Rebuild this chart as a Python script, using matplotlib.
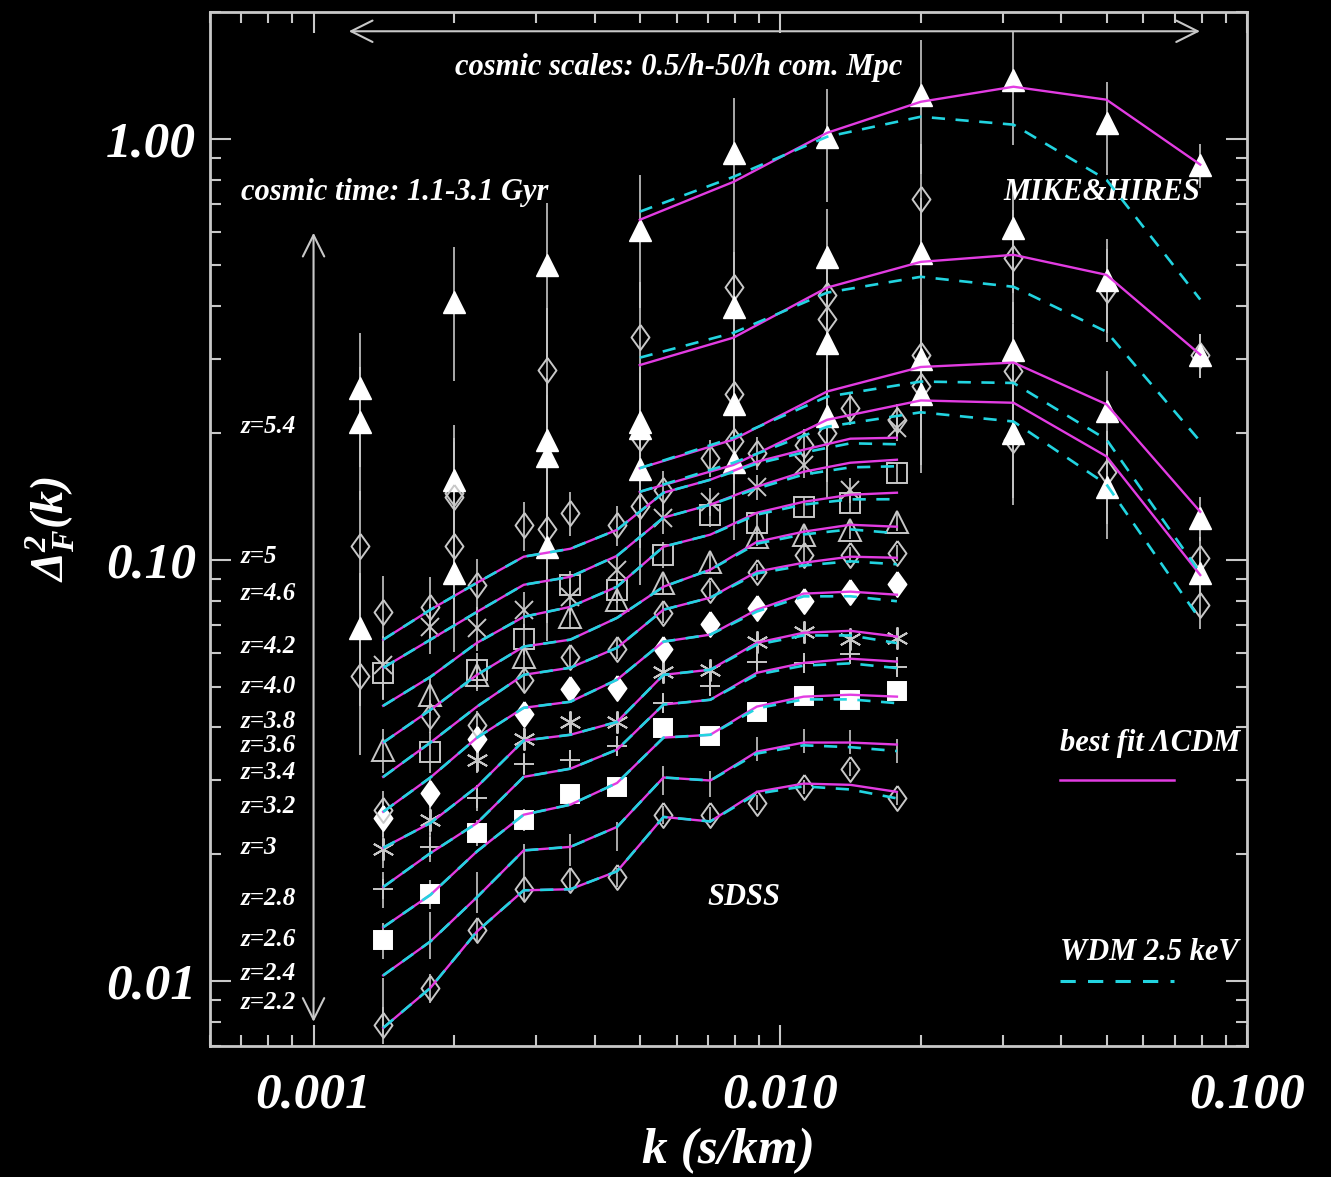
import numpy as np
import matplotlib.pyplot as plt
from matplotlib.ticker import FixedLocator, LogLocator, NullFormatter

plt.rcParams['font.family'] = ['Liberation Serif', 'DejaVu Serif']
plt.rcParams['mathtext.fontset'] = 'custom'
plt.rcParams['mathtext.rm'] = 'Liberation Serif:bold:italic'
plt.rcParams['mathtext.it'] = 'Liberation Serif:bold:italic'
plt.rcParams['mathtext.bf'] = 'Liberation Serif:bold:italic'

nan = np.nan

# SDSS flux power, 11 redshift bins
k_sdss = [0.00141, 0.00178, 0.00224, 0.00282, 0.00355, 0.00447, 0.00562, 0.00708, 0.00891, 0.01122, 0.01413, 0.01778]
z_sdss = [2.2, 2.4, 2.6, 2.8, 3.0, 3.2, 3.4, 3.6, 3.8, 4.0, 4.2]

lcdm_22 = [0.00773, 0.00962, 0.0131, 0.0164, 0.0165, 0.0182, 0.0245, 0.0239, 0.0281, 0.0294, 0.0292, 0.0281]
obs_22 = [0.00786, 0.00962, 0.0132, 0.0165, 0.0174, 0.0176, 0.0248, 0.0248, 0.0265, 0.0289, 0.0319, 0.0272]
lcdm_24 = [0.0103, 0.0124, 0.0158, 0.0204, 0.0208, 0.0232, 0.0304, 0.0299, 0.0350, 0.0368, 0.0368, 0.0364]
obs_24 = [0.00877, 0.0129, 0.0163, 0.0193, 0.0205, 0.0221, 0.0300, 0.0294, 0.0356, 0.0372, 0.0370, 0.0352]
lcdm_26 = [0.0134, 0.0160, 0.0203, 0.0248, 0.0262, 0.0295, 0.0378, 0.0384, 0.0448, 0.0473, 0.0478, 0.0473]
obs_26 = [0.0125, 0.0161, 0.0225, 0.0241, 0.0277, 0.0289, 0.0399, 0.0382, 0.0436, 0.0475, 0.0465, 0.0489]
lcdm_28 = [0.0167, 0.0201, 0.0237, 0.0305, 0.0319, 0.0354, 0.0453, 0.0465, 0.0539, 0.0569, 0.0582, 0.0573]
obs_28 = [0.0165, 0.0208, 0.0272, 0.0328, 0.0335, 0.0362, 0.0458, 0.0502, 0.0573, 0.0569, 0.0598, 0.0557]
lcdm_30 = [0.0207, 0.0237, 0.0289, 0.0372, 0.0384, 0.0412, 0.0533, 0.0548, 0.0635, 0.0671, 0.0678, 0.0657]
obs_30 = [0.0206, 0.0241, 0.0335, 0.0376, 0.0412, 0.0412, 0.0542, 0.0548, 0.0639, 0.0675, 0.0649, 0.0653]
lcdm_32 = [0.0252, 0.0304, 0.0378, 0.0445, 0.0460, 0.0519, 0.0639, 0.0664, 0.0761, 0.0831, 0.0840, 0.0826]
obs_32 = [0.0244, 0.0280, 0.0376, 0.0431, 0.0494, 0.0497, 0.0615, 0.0705, 0.0769, 0.0799, 0.0840, 0.0877]
lcdm_34 = [0.0305, 0.0368, 0.0448, 0.0533, 0.0554, 0.0618, 0.0761, 0.0813, 0.0937, 0.0984, 0.1017, 0.1011]
obs_34 = [0.0255, 0.0426, 0.0406, 0.0519, 0.0588, 0.0615, 0.0748, 0.0849, 0.0937, 0.1028, 0.1028, 0.1039]
lcdm_36 = [0.0368, 0.0440, 0.0533, 0.0622, 0.0646, 0.0728, 0.0863, 0.0947, 0.1103, 0.1166, 0.1211, 0.1198]
obs_36 = [0.0354, 0.0478, 0.0533, 0.0588, 0.0732, 0.0804, 0.0882, 0.0989, 0.1134, 0.1147, 0.1178, 0.1231]
lcdm_38 = [0.0450, 0.0527, 0.0635, 0.0732, 0.0773, 0.0863, 0.1074, 0.1147, 0.1293, 0.1373, 0.1427, 0.1443]
obs_38 = [0.0539, 0.0350, 0.0548, 0.0649, 0.0872, 0.0849, 0.1028, 0.1279, 0.1224, 0.1336, 0.1366, 0.1609]
lcdm_40 = [0.0554, 0.0646, 0.0752, 0.0872, 0.0911, 0.1022, 0.1259, 0.1351, 0.1491, 0.1618, 0.1700, 0.1728]
obs_40 = [0.0563, 0.0693, 0.0690, 0.0761, 0.0817, 0.0947, 0.1259, 0.1373, 0.1491, 0.1681, 0.1466, 0.2059]
lcdm_42 = [0.0646, 0.0761, 0.0882, 0.1017, 0.1062, 0.1178, 0.1443, 0.1549, 0.1709, 0.1825, 0.1939, 0.1949]
obs_42 = [0.0752, 0.0773, 0.0872, 0.1211, 0.1293, 0.1211, 0.1466, 0.1747, 0.1796, 0.1876, 0.2296, 0.2150]

# WDM / LCDM ratio
wdm_ratio_sdss = [1.0, 1.0, 1.0, 1.0, 1.0, 1.0, 1.0, 1.0, 0.99, 0.985, 0.975, 0.965]
sdss_err = [0.10, 0.08, 0.07, 0.06, 0.055, 0.05, 0.05, 0.045, 0.04, 0.04, 0.04, 0.04]
sdss_err_scale = [1.0, 1.6, 1.0, 1.0, 1.0, 1.0, 1.1, 1.2, 1.4, 1.7, 2.2]

# MIKE & HIRES, 4 redshift bins
k_mh = [0.00126, 0.0020, 0.00316, 0.0050, 0.00794, 0.0126, 0.0200, 0.0316, 0.0500, 0.0794]
k_mh_model = [0.0050, 0.00794, 0.0126, 0.0200, 0.0316, 0.0500, 0.0794]

lcdm_mh_54 = [0.642, 0.790, 1.033, 1.224, 1.329, 1.238, 0.868]
wdm_mh_54 = [0.671, 0.812, 1.011, 1.128, 1.080, 0.799, 0.415]
lcdm_mh_50 = [0.290, 0.337, 0.443, 0.510, 0.530, 0.475, 0.307]
wdm_mh_50 = [0.302, 0.346, 0.431, 0.470, 0.445, 0.348, 0.191]
lcdm_mh_46 = [0.165, 0.193, 0.251, 0.287, 0.294, 0.234, 0.130]
wdm_mh_46 = [0.165, 0.195, 0.244, 0.265, 0.263, 0.193, 0.093]
lcdm_mh_42 = [0.145, 0.168, 0.215, 0.239, 0.236, 0.176, 0.092]
wdm_mh_42 = [0.145, 0.170, 0.207, 0.224, 0.213, 0.151, 0.072]

tri_mh_54 = [0.256, 0.410, 0.502, 0.608, 0.926, 1.011, 1.272, 1.381, 1.091, 0.868]
tri_mh_50 = [0.213, 0.155, 0.193, 0.212, 0.399, 0.524, 0.536, 0.615, 0.462, 0.307]
tri_mh_46 = [0.069, 0.093, 0.176, 0.206, 0.234, 0.328, 0.299, 0.315, 0.225, 0.126]
tri_mh_42 = [nan, nan, 0.107, 0.164, 0.171, 0.219, 0.247, 0.200, 0.149, 0.093]
dia_mh_54 = [nan, nan, 0.283, nan, nan, nan, 0.720, nan, nan, nan]
dia_mh_50 = [0.108, 0.144, nan, 0.339, 0.445, 0.426, nan, 0.522, 0.438, 0.307]
dia_mh_46 = [nan, 0.141, 0.118, 0.195, 0.247, 0.374, 0.307, 0.280, nan, 0.101]
dia_mh_42 = [0.053, 0.108, nan, 0.134, 0.191, 0.200, 0.258, 0.193, 0.162, 0.078]
mh_err = [0.35, 0.35, 0.40, 0.35, 0.35, 0.30, 0.35, 0.30, 0.25, 0.12]

z_labels = ['z=5.4', 'z=5', 'z=4.6', 'z=4.2', 'z=4.0', 'z=3.8', 'z=3.6', 'z=3.4',
            'z=3.2', 'z=3', 'z=2.8', 'z=2.6', 'z=2.4', 'z=2.2']
z_label_y = [0.207, 0.102, 0.0831, 0.0622, 0.0499, 0.0412, 0.0362, 0.0312,
             0.0260, 0.0207, 0.0157, 0.0125, 0.0104, 0.00887]

MAG = '#e23ce2'
CYA = '#22d4e0'
GRY = '#c8c8c8'
WHT = 'white'
diamond = [(0, 1), (0.72, 0), (0, -1), (-0.72, 0), (0, 1)]
aster = (6, 2, 0)

sdss_lcdm = [lcdm_22, lcdm_24, lcdm_26, lcdm_28, lcdm_30, lcdm_32, lcdm_34, lcdm_36, lcdm_38, lcdm_40, lcdm_42]
sdss_obs = [obs_22, obs_24, obs_26, obs_28, obs_30, obs_32, obs_34, obs_36, obs_38, obs_40, obs_42]
# marker, size, face, edge
sdss_sym = [(diamond, 18, 'none', GRY), (None, 0, 'none', GRY), ('s', 13, WHT, WHT),
            ('+', 15, 'none', GRY), (aster, 16, 'none', GRY), (diamond, 18, WHT, WHT),
            (diamond, 18, 'none', GRY), ('^', 16, 'none', GRY), ('s', 14, 'none', GRY),
            ('x', 13, 'none', GRY), (diamond, 18, 'none', GRY)]

fig = plt.figure(figsize=(13.31, 11.77), dpi=100, facecolor='black')
ax = fig.add_axes([210 / 1331, 1 - 1046 / 1177, 1037 / 1331, 1034 / 1177])
ax.set_facecolor('black')
ax.set_xscale('log')
ax.set_yscale('log')

ks = np.array(k_sdss)
for i, z in enumerate(z_sdss):
    mod = np.array(sdss_lcdm[i])
    obs = np.array(sdss_obs[i])
    err = obs * np.array(sdss_err) * sdss_err_scale[i]
    ax.errorbar(ks, obs, yerr=err, fmt='none', ecolor=GRY, elinewidth=1.2, zorder=2)
    m, ms, fc, ec = sdss_sym[i]
    if m is not None:
        ax.plot(ks, obs, ls='none', marker=m, ms=ms, mfc=fc, mec=ec, mew=1.4, zorder=3)
    ax.plot(ks, mod, color=MAG, lw=1.7, zorder=4)
    ax.plot(ks, mod * np.array(wdm_ratio_sdss), color=CYA, lw=1.9, ls=(0, (5, 4)), zorder=5)

km = np.array(k_mh)
for tri, dia in [(tri_mh_54, dia_mh_54), (tri_mh_50, dia_mh_50), (tri_mh_46, dia_mh_46), (tri_mh_42, dia_mh_42)]:
    for vals in (tri, dia):
        v = np.array(vals)
        ax.errorbar(km, v, yerr=v * np.array(mh_err), fmt='none', ecolor=GRY, elinewidth=1.2, zorder=2)
    ax.plot(km, dia, ls='none', marker=diamond, ms=18, mfc='none', mec=GRY, mew=1.4, zorder=3)
    ax.plot(km, tri, ls='none', marker='^', ms=16, mfc=WHT, mec=WHT, zorder=3)

for lc, wd in [(lcdm_mh_54, wdm_mh_54), (lcdm_mh_50, wdm_mh_50), (lcdm_mh_46, wdm_mh_46), (lcdm_mh_42, wdm_mh_42)]:
    ax.plot(k_mh_model, lc, color=MAG, lw=1.7, zorder=4)
    ax.plot(k_mh_model, wd, color=CYA, lw=1.9, ls=(0, (5, 4)), zorder=5)

ax.set_xlim(6e-4, 0.1)
ax.set_ylim(7e-3, 2.0)

tfont = dict(family='Liberation Serif', weight='bold', style='italic', color=WHT)
ax.xaxis.set_major_locator(FixedLocator([0.001, 0.01, 0.1]))
ax.yaxis.set_major_locator(FixedLocator([0.01, 0.1, 1.0]))
ax.xaxis.set_minor_locator(LogLocator(base=10, subs=np.arange(2, 10)))
ax.yaxis.set_minor_locator(LogLocator(base=10, subs=np.arange(2, 10)))
ax.xaxis.set_minor_formatter(NullFormatter())
ax.yaxis.set_minor_formatter(NullFormatter())
ax.set_xticklabels(['0.001', '0.010', '0.100'], fontdict=dict(tfont, size=37))
ax.set_yticklabels(['0.01', '0.10', '1.00'], fontdict=dict(tfont, size=37))
ax.tick_params(which='both', direction='in', top=True, right=True, color=GRY, width=1.5)
ax.tick_params(which='major', length=15)
ax.tick_params(which='minor', length=8)
ax.tick_params(axis='x', pad=19)
ax.tick_params(axis='y', pad=10)
for s in ax.spines.values():
    s.set_color(GRY)
    s.set_linewidth(2)

ax.set_xlabel('k (s/km)', fontdict=dict(tfont, size=37))
ax.xaxis.set_label_coords(0.5, -0.079)
ax.set_ylabel(r'$\Delta^2_F(k)$', color=WHT, fontsize=33)
ax.yaxis.set_label_coords(-0.128, 0.5)

# scale and time arrows
arrow = dict(arrowstyle='<->,head_length=0.7,head_width=0.35', color=GRY, lw=1.5,
             mutation_scale=22, shrinkA=0, shrinkB=0)
ax.annotate('', xy=(0.0793, 1.80), xytext=(0.00119, 1.80), arrowprops=arrow)
ax.annotate('', xy=(0.001, 0.00799), xytext=(0.001, 0.598), arrowprops=arrow)

afont = dict(tfont, size=22)
ax.text(0.452, 0.946, 'cosmic scales: 0.5/h-50/h com. Mpc', transform=ax.transAxes, ha='center', va='center', **afont)
ax.text(0.030, 0.825, 'cosmic time: 1.1-3.1 Gyr', transform=ax.transAxes, ha='left', va='center', **afont)
ax.text(0.955, 0.825, 'MIKE&HIRES', transform=ax.transAxes, ha='right', va='center', **afont)
ax.text(0.515, 0.144, 'SDSS', transform=ax.transAxes, ha='center', va='center', **afont)
ax.text(0.820, 0.293, 'best fit ΛCDM', transform=ax.transAxes, ha='left', va='center', **afont)
ax.text(0.820, 0.090, 'WDM 2.5 keV', transform=ax.transAxes, ha='left', va='center', **afont)
ax.plot([0.820, 0.930], [0.257, 0.257], transform=ax.transAxes, color=MAG, lw=1.8)
ax.plot([0.820, 0.930], [0.063, 0.063], transform=ax.transAxes, color=CYA, lw=2.2, ls=(0, (5, 4)))

for lab, yv in zip(z_labels, z_label_y):
    ax.text(6.98e-4, yv, lab, ha='left', va='center', **dict(tfont, size=18))

fig.savefig('out.png', dpi=100, facecolor='black')
